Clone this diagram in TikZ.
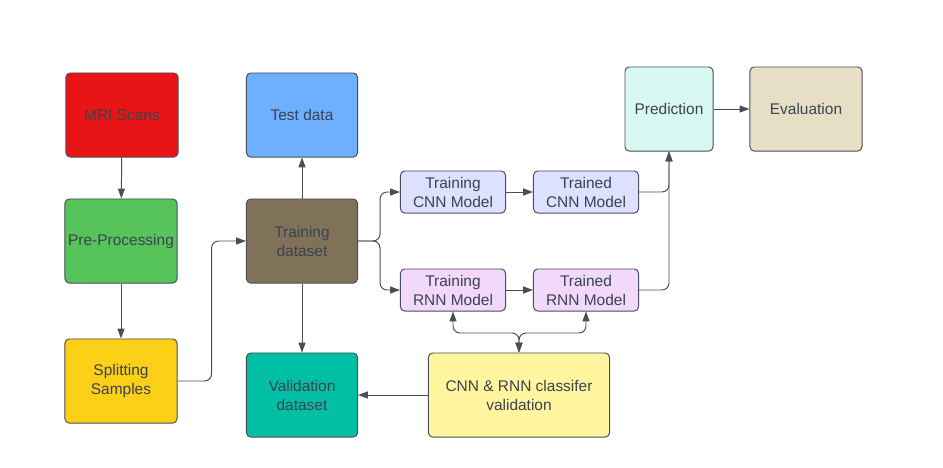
\documentclass[tikz,border=0pt]{standalone}
\usepackage{fontspec}
\setmainfont{Liberation Sans}
\usetikzlibrary{arrows.meta}

\begin{document}
\begin{tikzpicture}[x=0.025cm,y=-0.025cm,
  mybox/.style={draw=edgegray,line width=0.7pt,rounded corners=3pt,text=txtgray,align=center,font=\fontsize{11}{13.5}\selectfont,inner sep=1pt},
  bigbox/.style={mybox,minimum width=2.8cm,minimum height=2.1cm},
  smallbox/.style={mybox,minimum width=2.625cm,minimum height=1.05cm},
  arr/.style={draw=edgegray,line width=0.7pt,rounded corners=5pt,-{Triangle[length=7pt,width=5pt]}},
  arrboth/.style={arr,{Triangle[length=7pt,width=5pt]}-{Triangle[length=7pt,width=5pt]}}]
\definecolor{edgegray}{HTML}{4A4F57}
\definecolor{txtgray}{HTML}{3B4250}
\definecolor{mrired}{HTML}{E81416}
\definecolor{pregreen}{HTML}{56C35B}
\definecolor{splityellow}{HTML}{FCD016}
\definecolor{testblue}{HTML}{6EB0FF}
\definecolor{trainbrown}{HTML}{7F7258}
\definecolor{validteal}{HTML}{00BFA5}
\definecolor{cnnlilac}{HTML}{DDE0FF}
\definecolor{rnnpink}{HTML}{F2D9FC}
\definecolor{predmint}{HTML}{D8F8F2}
\definecolor{evalbeige}{HTML}{E6DFC5}
\definecolor{clfyellow}{HTML}{FFF59E}
\useasboundingbox (0,0) rectangle (943,468);
% left column
\node [bigbox,fill=mrired] (mri) at (122,115) {MRI Scans};
\node [bigbox,fill=pregreen] (pre) at (121,241) {Pre-Processing};
\node [bigbox,fill=splityellow] (split) at (121,381) {Splitting\\Samples};
% data column
\node [bigbox,minimum width=2.775cm,fill=testblue] (test) at (302,115) {Test data};
\node [bigbox,minimum width=2.775cm,fill=trainbrown] (tds) at (302,241) {Training\\dataset};
\node [bigbox,minimum width=2.775cm,fill=validteal] (vds) at (302,395) {Validation\\dataset};
% models
\foreach \nm/\txt/\xx/\yy/\crlr in {tcnn/{Training\\CNN Model}/453/192/cnnlilac,
    tdcnn/{Trained\\CNN Model}/586/192/cnnlilac,
    trnn/{Training\\RNN Model}/453/290/rnnpink,
    tdrnn/{Trained\\RNN Model}/586/290/rnnpink}
  {\node [smallbox,fill=\crlr] (\nm) at (\xx,\yy) {\txt};}
\node [bigbox,minimum width=2.2cm,fill=predmint] (pred) at (669,109) {Prediction};
\node [bigbox,fill=evalbeige] (eval) at (806,109) {Evaluation};
\node [bigbox,minimum width=4.525cm,fill=clfyellow] (clf) at (519,395) {CNN \& RNN classifer\\validation};
\coordinate (jn) at (519,333);
% connectors
\draw [arr] (mri) -- (pre);
\draw [arr] (pre) -- (split);
\draw [arr] (split.east) -- ++(34,0) |- (tds.west);
\draw [arr] (tds) -- (test);
\draw [arr] (tds) -- (vds);
\foreach \dst in {tcnn,trnn}
  {\draw [arr] (tds.east) -- ++(22,0) |- (\dst.west);}
\draw [arr] (tcnn) -- (tdcnn);
\draw [arr] (trnn) -- (tdrnn);
\foreach \src in {tdcnn,tdrnn}
  {\draw [arr] (\src.east) -| (pred.south);}
\draw [arr] (pred) -- (eval);
\draw [arr] (clf) -- (vds);
\foreach \src in {trnn,tdrnn}
  {\draw [arrboth] (\src.south) |- (jn) -- (clf.north);}
\end{tikzpicture}
\end{document}
